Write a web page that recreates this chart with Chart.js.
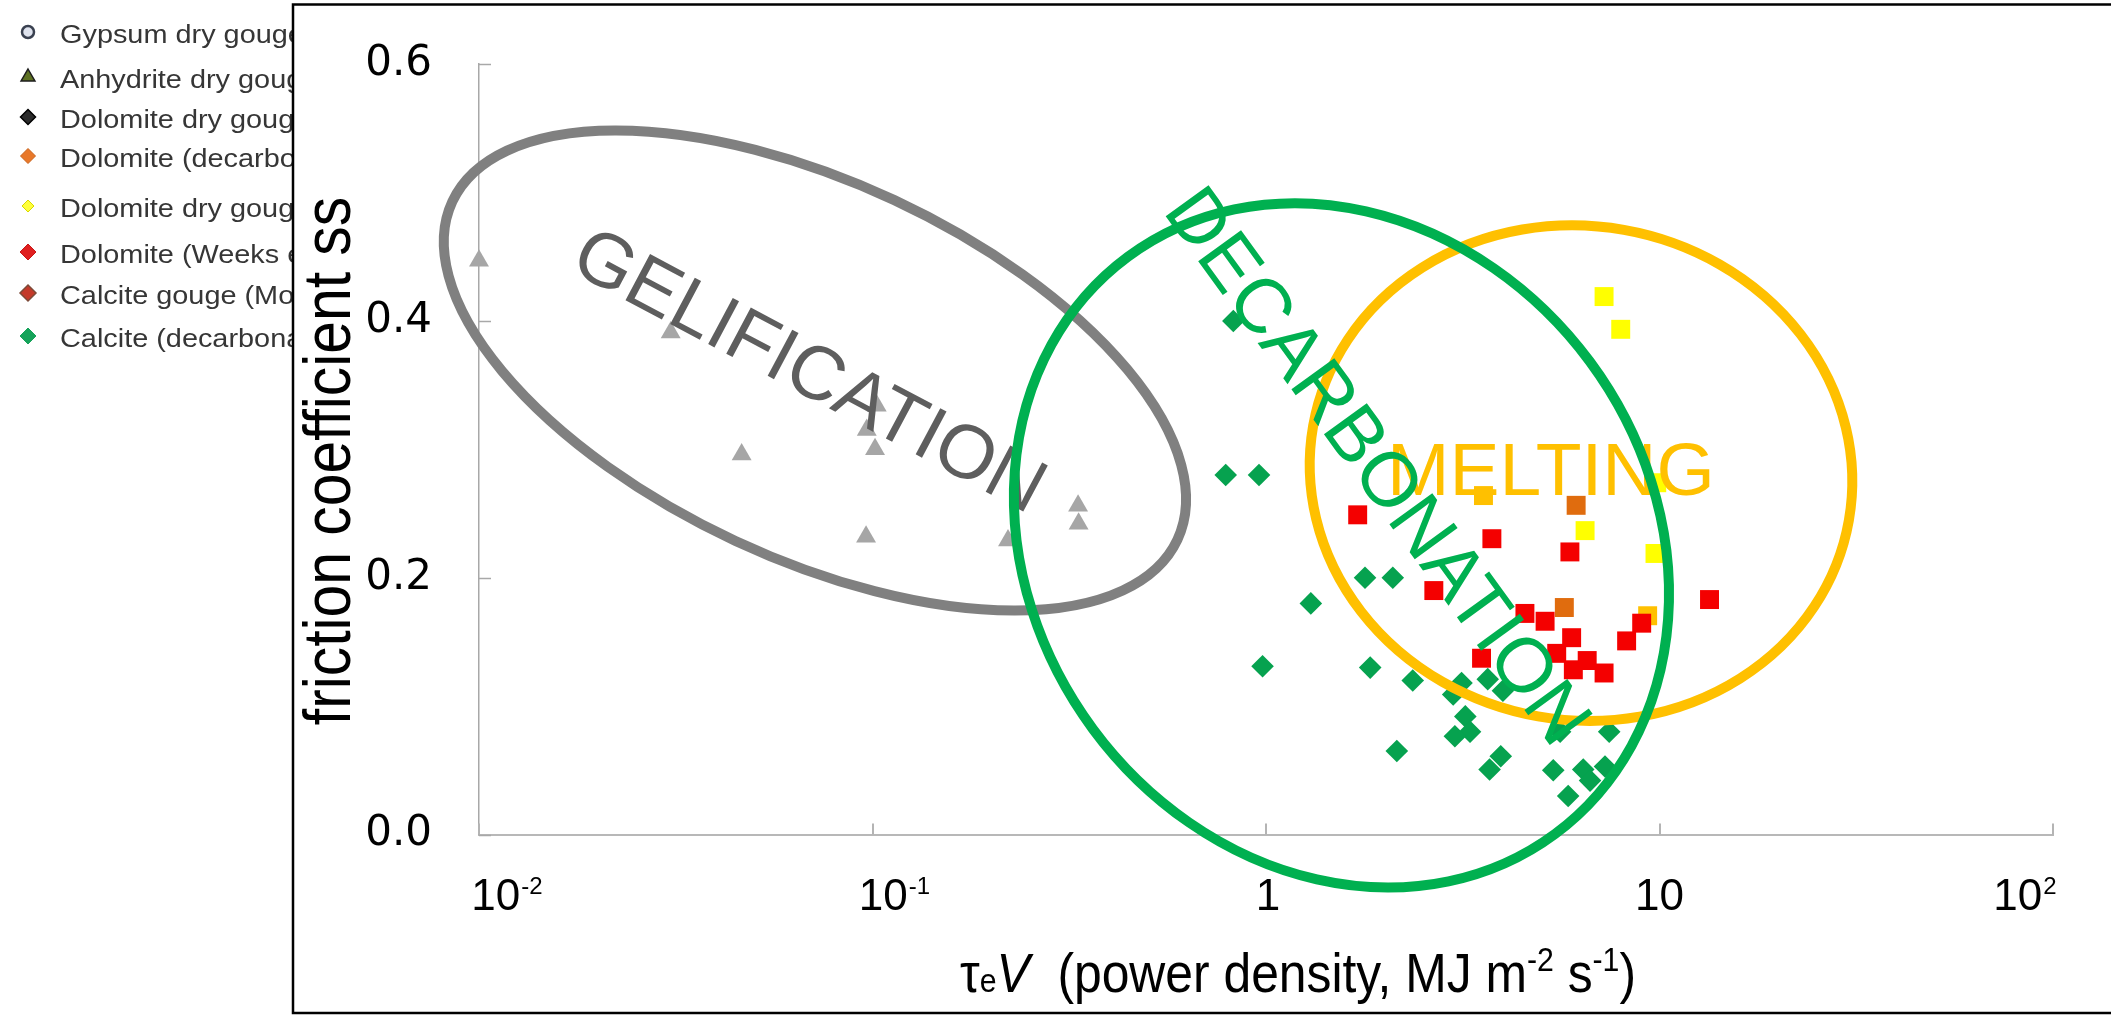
<!DOCTYPE html>
<html lang="en">
<head>
<meta charset="UTF-8" />
<title>Friction coefficient vs power density</title>
<script src="https://cdn.jsdelivr.net/npm/chart.js"></script>
<style>
  html, body { margin: 0; padding: 0; background: #fff; }
  #wrap { position: relative; width: 2111px; height: 1016px; }
</style>
</head>
<body>
<div id="wrap"><canvas id="chart"></canvas></div>
<script>
  // ---- values ----
  const xTicks = [0.01, 0.1, 1, 10, 100];
  const xTickBase = ['10', '10', '1', '10', '10'];
  const xTickExp = ['-2', '-1', '', '', '2'];
  const yTicks = [0, 0.2, 0.4, 0.6];

  // grey triangles (gelification)
  const gelX = [0.0100, 0.0307, 0.0465, 0.1025, 0.0967, 0.1015, 0.0963, 0.221, 0.333, 0.334];
  const gelY = [0.447, 0.391, 0.296, 0.334, 0.315, 0.300, 0.232, 0.229, 0.256, 0.242];

  // green diamonds - calcite (decarbonation)
  const calX = [0.826, 0.790, 0.960, 1.785, 2.10, 1.30, 0.98, 1.84, 2.36, 3.14, 2.99, 3.66, 4.00,
                3.21, 3.30, 3.02, 2.15, 3.95, 3.70, 5.59, 7.45, 5.37, 6.40, 7.27, 6.66, 5.86];
  const calY = [0.400, 0.280, 0.280, 0.200, 0.200, 0.180, 0.131, 0.130, 0.120, 0.118, 0.109, 0.121, 0.112,
                0.092, 0.080, 0.0765, 0.065, 0.061, 0.0506, 0.080, 0.080, 0.050, 0.0506, 0.053, 0.042, 0.030];

  // red squares - dolomite (Weeks et al.)
  const weeksX = [1.71, 3.75, 5.92, 2.67, 4.55, 5.12, 5.98, 5.48, 6.04, 6.55, 7.23, 3.53, 8.25, 9.01, 13.4];
  const weeksY = [0.249, 0.2304, 0.2201, 0.190, 0.1722, 0.1661, 0.1533, 0.1411, 0.1283, 0.1355, 0.1258, 0.1373, 0.1508, 0.1646, 0.183];

  // dark orange squares - dolomite (decarbonation)
  const dolDecX = [6.14, 5.73];
  const dolDecY = [0.2564, 0.1768];

  // amber squares - calcite gouge
  const calGougeX = [3.57, 9.33];
  const calGougeY = [0.264, 0.1704];

  // yellow squares - dolomite dry gouge
  const dolDryX = [7.23, 7.97, 6.47, 9.74, 9.84];
  const dolDryY = [0.419, 0.3935, 0.2367, 0.2189, 0.274];

  const legendLabels = [
    'Gypsum dry gouge (this study)',
    'Anhydrite dry gouge (this study)',
    'Dolomite dry gouge (this study)',
    'Dolomite (decarbonation)',
    'Dolomite dry gouge (De Paola et al.)',
    'Dolomite (Weeks et al.)',
    'Calcite gouge (Mote et al.)',
    'Calcite (decarbonation)'
  ];

  // ---- styles ----
  const legendBaselines = [43, 88, 128, 167, 217, 263, 304, 347];
  const legendMarkers = [
    { shape: 'circle', r: 6, fill: '#dfe3ee', stroke: '#3a4150', lw: 2.5 },
    { shape: 'triangle', r: 8, fill: '#5d7022', stroke: '#1c1c1c', lw: 1.5 },
    { shape: 'diamond', r: 7.5, fill: '#2b2b2b', stroke: '#000000', lw: 1.5 },
    { shape: 'diamond', r: 7.5, fill: '#e8782a', stroke: '#c9631c', lw: 1 },
    { shape: 'diamond', r: 6, fill: '#ffff3a', stroke: '#d8d800', lw: 1 },
    { shape: 'diamond', r: 8, fill: '#e02020', stroke: '#c81818', lw: 1 },
    { shape: 'diamond', r: 8, fill: '#c43a2a', stroke: '#7d4a38', lw: 1.5 },
    { shape: 'diamond', r: 8, fill: '#16a35a', stroke: '#16a35a', lw: 1 }
  ];
  const xLabelShift = [28, 22, 2, 0, -28];
  const FONT = '"Liberation Sans", Arial, sans-serif';

  // ellipses and their labels (centres in data units, radii in px)
  const regions = [
    { x: 0.0714, y: 0.3614, a: 400, b: 188, rot: 25, color: '#808080' },
    { x: 6.317, y: 0.2815, a: 272, b: 247, rot: 10, color: '#ffc000' },
    { x: 1.555, y: 0.2252, a: 359, b: 309, rot: 53.5, color: '#00b050' }
  ];
  const regionLabels = [
    { text: 'GELIFICATION', x: 0.0686, y: 0.3591, rot: 28, size: 76, color: '#5e5e5e', align: 'center' },
    { text: 'MELTING', x: 2.03, y: 0.2642, rot: 0, size: 75, color: '#ffc000', align: 'left' },
    { text: 'DECARBONATION', x: 1.890, y: 0.2854, rot: 54, size: 77, color: '#00b050', align: 'center' }
  ];

  function pts(xs, ys) { return xs.map((x, i) => ({ x: x, y: ys[i] })); }

  function marker(ctx, m, x, y) {
    ctx.beginPath();
    if (m.shape === 'circle') {
      ctx.arc(x, y, m.r, 0, Math.PI * 2);
    } else if (m.shape === 'triangle') {
      ctx.moveTo(x, y - m.r);
      ctx.lineTo(x + m.r * 0.866, y + m.r * 0.5);
      ctx.lineTo(x - m.r * 0.866, y + m.r * 0.5);
      ctx.closePath();
    } else {
      ctx.moveTo(x, y - m.r);
      ctx.lineTo(x + m.r, y);
      ctx.lineTo(x, y + m.r);
      ctx.lineTo(x - m.r, y);
      ctx.closePath();
    }
    ctx.fillStyle = m.fill;
    ctx.fill();
    ctx.lineWidth = m.lw;
    ctx.strokeStyle = m.stroke;
    ctx.stroke();
  }

  const figurePlugin = {
    id: 'figure',
    beforeDraw(chart) {
      const ctx = chart.ctx;
      ctx.save();
      ctx.fillStyle = '#fff';
      ctx.fillRect(0, 0, chart.width, chart.height);

      // legend on the left, partly hidden by the framed plot
      legendLabels.forEach((label, i) => {
        const yb = legendBaselines[i];
        marker(ctx, legendMarkers[i], 28, yb - 11);
        ctx.save();
        ctx.translate(60, yb);
        ctx.scale(1.11, 1);
        ctx.font = '26px ' + FONT;
        ctx.fillStyle = '#363636';
        ctx.textAlign = 'left';
        ctx.textBaseline = 'alphabetic';
        ctx.fillText(label, 0, 0);
        ctx.restore();
      });

      // framed panel
      ctx.fillStyle = '#fff';
      ctx.fillRect(293, 4.5, chart.width, 1008.5);
      ctx.strokeStyle = '#000';
      ctx.lineWidth = 2.5;
      ctx.strokeRect(293, 4.5, chart.width + 10, 1008.5);
      ctx.restore();
    },
    afterDatasetsDraw(chart) {
      const ctx = chart.ctx;
      const xs = chart.scales.x;
      const ys = chart.scales.y;
      const area = chart.chartArea;
      ctx.save();

      // inward tick marks
      ctx.strokeStyle = '#a8a8a8';
      ctx.lineWidth = 1.5;
      yTicks.forEach(v => {
        const py = Math.round(ys.getPixelForValue(v)) + 0.5;
        ctx.beginPath();
        ctx.moveTo(area.left, py);
        ctx.lineTo(area.left + 12, py);
        ctx.stroke();
      });
      ctx.strokeStyle = '#b4b4b4';
      ctx.lineWidth = 2;
      xTicks.forEach(v => {
        const px = Math.round(xs.getPixelForValue(v));
        ctx.beginPath();
        ctx.moveTo(px, area.bottom);
        ctx.lineTo(px, area.bottom - 11);
        ctx.stroke();
      });

      // x tick labels with exponents
      ctx.fillStyle = '#000';
      ctx.textBaseline = 'alphabetic';
      ctx.textAlign = 'left';
      xTicks.forEach((v, i) => {
        ctx.font = '44px ' + FONT;
        const wb = ctx.measureText(xTickBase[i]).width;
        ctx.font = '24px ' + FONT;
        const we = xTickExp[i] ? ctx.measureText(xTickExp[i]).width + 1 : 0;
        const left = xs.getPixelForValue(v) + xLabelShift[i] - (wb + we) / 2;
        ctx.font = '44px ' + FONT;
        ctx.fillText(xTickBase[i], left, 910);
        if (xTickExp[i]) {
          ctx.font = '24px ' + FONT;
          ctx.fillText(xTickExp[i], left + wb + 1, 894);
        }
      });

      // y axis title
      ctx.save();
      ctx.translate(350, 461);
      ctx.rotate(-Math.PI / 2);
      ctx.scale(0.98, 1.12);
      ctx.font = '60px ' + FONT;
      ctx.textAlign = 'center';
      ctx.fillText('friction coefficient ss', 0, 0);
      ctx.restore();

      // x axis title: τe V (power density, MJ m-2 s-1)
      const parts = [
        { t: '\u03c4', f: '56px ' + FONT, dy: 0 },
        { t: 'e', f: '34px ' + FONT, dy: 0 },
        { t: 'V', f: 'italic 56px ' + FONT, dy: 0 },
        { t: '  (power density, MJ m', f: '56px ' + FONT, dy: 0 },
        { t: '-2', f: '34px ' + FONT, dy: -21 },
        { t: ' s', f: '56px ' + FONT, dy: 0 },
        { t: '-1', f: '34px ' + FONT, dy: -21 },
        { t: ')', f: '56px ' + FONT, dy: 0 }
      ];
      let total = 0;
      parts.forEach(p => { ctx.font = p.f; p.w = ctx.measureText(p.t).width; total += p.w; });
      const sx = 676 / total;
      ctx.save();
      ctx.translate(960, 992);
      ctx.scale(sx, 1);
      let cx = 0;
      parts.forEach(p => { ctx.font = p.f; ctx.fillText(p.t, cx, p.dy); cx += p.w; });
      ctx.restore();

      // region outlines with their labels
      const drawRegion = (r) => {
        ctx.beginPath();
        ctx.ellipse(xs.getPixelForValue(r.x), ys.getPixelForValue(r.y), r.a, r.b,
          r.rot * Math.PI / 180, 0, Math.PI * 2);
        ctx.strokeStyle = r.color;
        ctx.lineWidth = 10;
        ctx.stroke();
      };
      const drawLabel = (l) => {
        ctx.save();
        ctx.translate(xs.getPixelForValue(l.x), ys.getPixelForValue(l.y));
        ctx.rotate(l.rot * Math.PI / 180);
        ctx.font = l.size + 'px ' + FONT;
        ctx.fillStyle = l.color;
        ctx.textAlign = l.align;
        ctx.textBaseline = l.align === 'left' ? 'alphabetic' : 'middle';
        ctx.fillText(l.text, 0, 0);
        ctx.restore();
      };
      regions.forEach((r, i) => { drawRegion(r); drawLabel(regionLabels[i]); });

      ctx.restore();
    }
  };

  const scatterSet = (label, xs, ys, style, radius, color) => ({
    label: label,
    data: pts(xs, ys),
    pointStyle: style,
    pointRadius: radius,
    pointHoverRadius: radius,
    backgroundColor: color,
    borderColor: color,
    borderWidth: 0,
    clip: false
  });

  new Chart(document.getElementById('chart').getContext('2d'), {
    type: 'scatter',
    data: {
      datasets: [
        scatterSet('Gelification (gypsum / anhydrite)', gelX, gelY, 'triangle', 11.5, '#a6a6a6'),
        scatterSet('Calcite (decarbonation)', calX, calY, 'rectRot', 11.3, '#06a24f'),
        scatterSet('Dolomite (Weeks et al.)', weeksX, weeksY, 'rect', 13.4, '#f40000'),
        scatterSet('Dolomite (decarbonation)', dolDecX, dolDecY, 'rect', 13.4, '#e06c0e'),
        scatterSet('Calcite gouge', calGougeX, calGougeY, 'rect', 13.4, '#ffc000'),
        scatterSet('Dolomite dry gouge', dolDryX, dolDryY, 'rect', 13.4, '#ffff00')
      ]
    },
    options: {
      responsive: true,
      maintainAspectRatio: false,
      animation: false,
      layout: { padding: { top: 50, right: 58, left: 0, bottom: 0 } },
      plugins: {
        legend: { display: false },
        tooltip: { enabled: false }
      },
      scales: {
        x: {
          type: 'logarithmic',
          min: 0.01,
          max: 100,
          grid: { display: false },
          border: { color: '#b8b8b8', width: 2 },
          ticks: { display: false },
          afterBuildTicks: s => { s.ticks = xTicks.map(v => ({ value: v })); },
          afterFit: s => { s.height = 181.5; }
        },
        y: {
          type: 'linear',
          min: 0,
          max: 0.6,
          grid: { display: false },
          border: { color: '#a8a8a8', width: 1.5 },
          ticks: {
            color: '#000',
            padding: 39,
            font: { family: 'DejaVu Sans', size: 42 },
            callback: v => Number(v).toFixed(1)
          },
          afterBuildTicks: s => { s.ticks = yTicks.map(v => ({ value: v })); },
          afterFit: s => { s.width = 479; }
        }
      }
    },
    plugins: [figurePlugin]
  });
</script>
</body>
</html>
